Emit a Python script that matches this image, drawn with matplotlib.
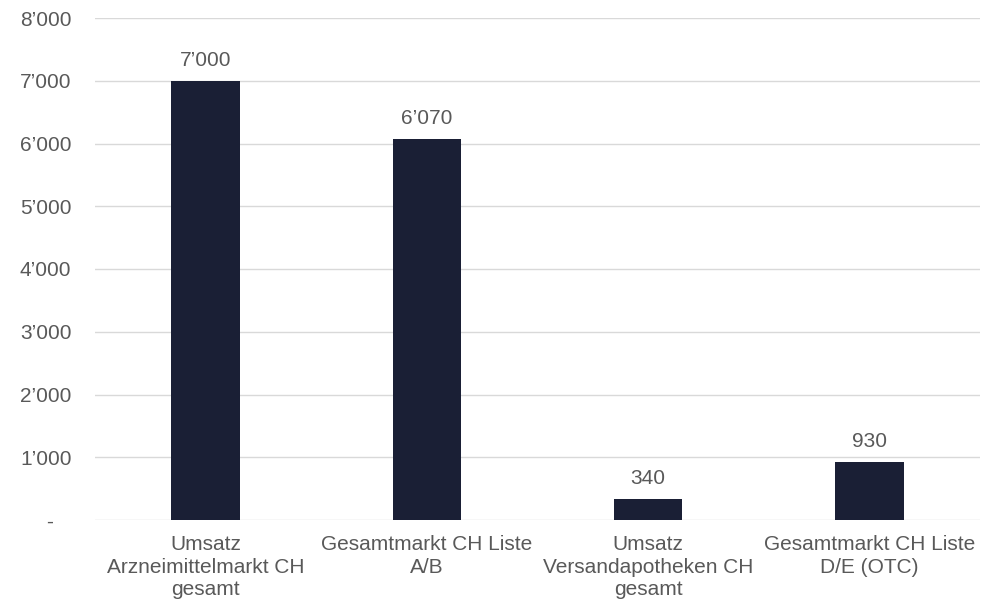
import matplotlib.pyplot as plt

plt.rcParams['font.family'] = ['Liberation Sans', 'DejaVu Sans']

# data
categories = ['Umsatz\nArzneimittelmarkt CH\ngesamt',
              'Gesamtmarkt CH Liste\nA/B',
              'Umsatz\nVersandapotheken CH\ngesamt',
              'Gesamtmarkt CH Liste\nD/E (OTC)']
values = [7000, 6070, 340, 930]
yticks = [0, 1000, 2000, 3000, 4000, 5000, 6000, 7000, 8000]


def fmt(v):
    if v == 0:
        return '-   '
    return '{:,}'.format(v).replace(',', '\u2019')


bar_color = '#1a1f35'
text_color = '#595959'

fig = plt.figure(figsize=(9.93, 6.05), dpi=100)
ax = fig.add_axes([95 / 993, 1 - 520 / 605, 885 / 993, 502 / 605])

x = range(len(values))
ax.bar(x, values, width=0.31, color=bar_color, zorder=3)

for xi, v in zip(x, values):
    ax.annotate(fmt(v), (xi, v), xytext=(0, 8), textcoords='offset points',
                ha='center', va='bottom', fontsize=15, color=text_color)

ax.set_xlim(-0.5, len(values) - 0.5)
ax.set_ylim(0, 8000)
ax.set_yticks(yticks)
ax.set_yticklabels([fmt(t) for t in yticks])
ax.set_xticks(list(x))
ax.set_xticklabels(categories, linespacing=1.22)

ax.grid(axis='y', color='#d9d9d9', linewidth=1, zorder=0)
ax.tick_params(axis='both', length=0, labelsize=15, colors=text_color)
ax.tick_params(axis='y', pad=17)
ax.tick_params(axis='x', pad=11)
for s in ax.spines.values():
    s.set_visible(False)

fig.savefig('out.png', dpi=100)
